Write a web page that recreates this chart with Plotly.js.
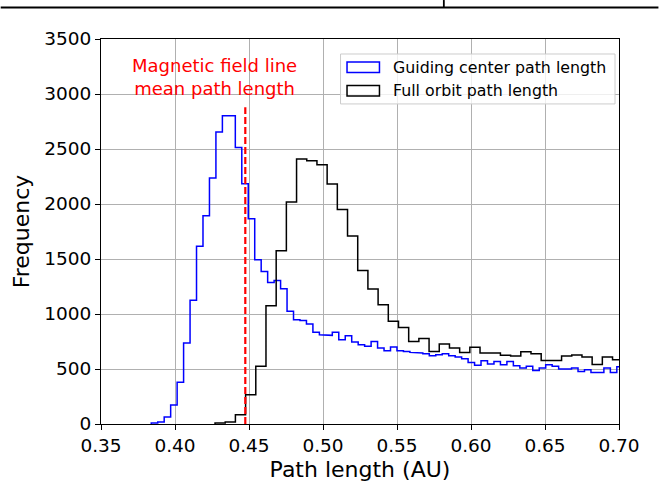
<!DOCTYPE html>
<html>
<head>
<meta charset="utf-8">
<script src="https://cdn.plot.ly/plotly-3.0.1.min.js"></script>
<style>html,body{margin:0;padding:0;background:#fff;}#chart{width:659px;height:488px;}</style>
</head>
<body>
<div id="chart"></div>
<script>
// ---- data ----
const guidingStart = 0.38396;   // left edge of first guiding-center bin (AU)
const guidingWidth = 0.004369;  // bin width (AU)
const guidingCounts = [9, 18, 64, 172, 380, 736, 1125, 1615, 1893, 2236, 2654, 2802, 2802, 2514,
  2184, 1866, 1494, 1387, 1287, 1305, 1230, 1024, 948, 940, 908, 833, 812, 806, 833, 766,
  803, 745, 721, 706, 751, 691, 665, 700, 666, 658, 651, 645, 639, 621, 630, 639, 621, 609,
  594, 560, 535, 575, 545, 569, 539, 569, 530, 509, 524, 487, 509, 539, 524, 500, 500, 509,
  478, 494, 469, 469, 509, 469, 520, 530];

const fullStart = 0.42704;      // left edge of first full-orbit bin (AU)
const fullWidth = 0.006887;     // bin width (AU)
const fullCounts = [8, 18, 85, 266, 524, 1075, 1575, 2018, 2409, 2393, 2357, 2182, 1950, 1710,
  1396, 1227, 1084, 933, 878, 751, 778, 660, 727, 691, 651, 697, 645, 645, 625, 618, 657,
  638, 577, 577, 618, 627, 609, 542, 609, 585, 585];

const fieldLineMean = 0.4475;   // magnetic field line mean path length (AU)
const fieldLineTop = 2880;      // top of the dashed marker (count)

const xTicks = [0.35, 0.40, 0.45, 0.50, 0.55, 0.60, 0.65, 0.70];
const yTicks = [0, 500, 1000, 1500, 2000, 2500, 3000, 3500];
const seriesNames = ['Guiding center path length', 'Full orbit path length'];

// ---- build step outlines (matplotlib histtype='step') ----
function stepOutline(start, width, counts) {
  const xs = [], ys = [];
  xs.push(start); ys.push(0);
  counts.forEach((c, i) => {
    const a = start + i * width, b = start + (i + 1) * width;
    xs.push(a, b); ys.push(c, c);
  });
  xs.push(start + counts.length * width); ys.push(0);
  return {x: xs, y: ys};
}
const g = stepOutline(guidingStart, guidingWidth, guidingCounts);
const f = stepOutline(fullStart, fullWidth, fullCounts);

const FONT = 'DejaVu Sans, sans-serif';

const traces = [
  {x: g.x, y: g.y, type: 'scatter', mode: 'lines', name: seriesNames[0],
   line: {color: '#0000ff', width: 1.5}, showlegend: false, hoverinfo: 'skip'},
  {x: f.x, y: f.y, type: 'scatter', mode: 'lines', name: seriesNames[1],
   line: {color: '#000000', width: 1.5}, showlegend: false, hoverinfo: 'skip'},
  {x: [fieldLineMean, fieldLineMean], y: [0, fieldLineTop], type: 'scatter', mode: 'lines',
   line: {color: '#ff0000', width: 2.2, dash: '7px,3px'}, showlegend: false, hoverinfo: 'skip'}
];

// paper helpers for legend drawn matplotlib-style
const L = 100.5, R = 619.5, T = 39, B = 424.3;
const px = v => (v - L) / (R - L);
const py = v => (B - v) / (B - T);

const layout = {
  width: 659, height: 488,
  margin: {l: L, r: 659 - R, t: T, b: 488 - B, pad: 0},
  paper_bgcolor: '#ffffff', plot_bgcolor: '#ffffff',
  font: {family: FONT, color: '#000000'},
  showlegend: false,
  xaxis: {
    range: [0.35, 0.70], tickvals: xTicks, ticktext: xTicks.map(v => v.toFixed(2)),
    ticks: 'outside', ticklen: 5, tickwidth: 1, tickcolor: '#000',
    showgrid: true, gridcolor: '#b0b0b0', gridwidth: 1,
    showline: true, linecolor: '#000', linewidth: 1, mirror: true, zeroline: false,
    tickfont: {family: FONT, size: 18.5, color: '#000'},
    title: {text: 'Path length (AU)', font: {family: FONT, size: 22, color: '#000'}, standoff: 6}
  },
  yaxis: {
    range: [0, 3500], tickvals: yTicks, ticktext: yTicks.map(String),
    ticks: 'outside', ticklen: 5, tickwidth: 1, tickcolor: '#000',
    showgrid: true, gridcolor: '#b0b0b0', gridwidth: 1,
    showline: true, linecolor: '#000', linewidth: 1, mirror: true, zeroline: false,
    tickfont: {family: FONT, size: 18.5, color: '#000'},
    title: {text: 'Frequency', font: {family: FONT, size: 22, color: '#000'}, standoff: 8}
  },
  shapes: [
    // legend frame
    {type: 'rect', xref: 'paper', yref: 'paper', x0: px(340.5), x1: px(615.5), y0: py(104), y1: py(54),
     line: {color: '#cccccc', width: 1}, fillcolor: 'rgba(255,255,255,0.8)', layer: 'above'},
    // legend patches
    {type: 'rect', xref: 'paper', yref: 'paper', x0: px(347), x1: px(379.5), y0: py(72.5), y1: py(62),
     line: {color: '#0000ff', width: 1.5}, fillcolor: 'rgba(0,0,0,0)', layer: 'above'},
    {type: 'rect', xref: 'paper', yref: 'paper', x0: px(347), x1: px(379.5), y0: py(96), y1: py(85.5),
     line: {color: '#000000', width: 1.5}, fillcolor: 'rgba(0,0,0,0)', layer: 'above'},
    // page fragment at top
    {type: 'line', xref: 'paper', yref: 'paper', x0: px(0), x1: px(659), y0: py(7.5), y1: py(7.5),
     line: {color: '#000', width: 1.8}},
    {type: 'line', xref: 'paper', yref: 'paper', x0: px(444), x1: px(444), y0: py(0), y1: py(7.5),
     line: {color: '#000', width: 1.8}}
  ],
  annotations: [
    {xref: 'paper', yref: 'paper', x: px(391), y: py(67.5), xanchor: 'left', yanchor: 'middle',
     text: seriesNames[0], showarrow: false, font: {family: FONT, size: 15.8, color: '#000'}},
    {xref: 'paper', yref: 'paper', x: px(391), y: py(90.5), xanchor: 'left', yanchor: 'middle',
     text: seriesNames[1], showarrow: false, font: {family: FONT, size: 15.8, color: '#000'}},
    {xref: 'paper', yref: 'paper', x: px(214.5), y: py(77), xanchor: 'center', yanchor: 'middle',
     text: 'Magnetic field line<br>mean path length', showarrow: false, align: 'center',
     font: {family: FONT, size: 18, color: '#ff0000'}}
  ]
};

Plotly.newPlot('chart', traces, layout, {staticPlot: true, displayModeBar: false});
</script>
</body>
</html>
